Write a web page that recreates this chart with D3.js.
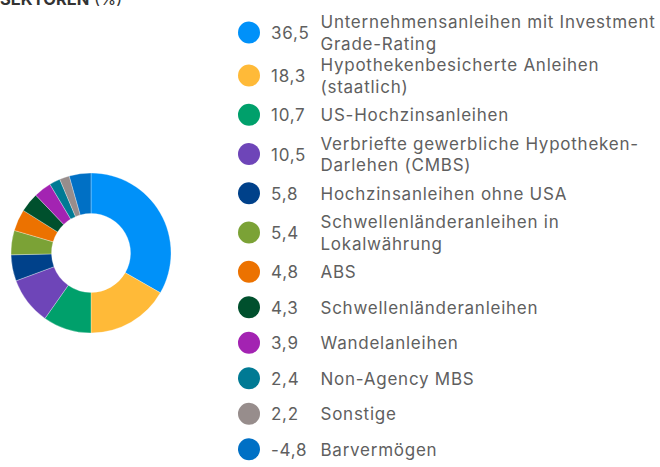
<!DOCTYPE html>
<html>
<head>
<meta charset="utf-8">
<script src="https://cdn.jsdelivr.net/npm/d3@7"></script>
<style>
  body { margin: 0; background: #fff; }
  svg { display: block; font-family: Inter, "Noto Sans", sans-serif; }
</style>
</head>
<body>
<svg width="660" height="467"></svg>
<script>
// Daten: Sektoren (%)
const labels = [
    ['Unternehmensanleihen mit Investment', 'Grade-Rating'],
    ['Hypothekenbesicherte Anleihen', '(staatlich)'],
    ['US-Hochzinsanleihen'],
    ['Verbriefte gewerbliche Hypotheken-', 'Darlehen (CMBS)'],
    ['Hochzinsanleihen ohne USA'],
    ['Schwellenländeranleihen in', 'Lokalwährung'],
    ['ABS'],
    ['Schwellenländeranleihen'],
    ['Wandelanleihen'],
    ['Non-Agency MBS'],
    ['Sonstige'],
    ['Barvermögen']
];
const values = [36.5, 18.3, 10.7, 10.5, 5.8, 5.4, 4.8, 4.3, 3.9, 2.4, 2.2, -4.8];
const colors = ['#0091f9', '#ffba38', '#00a06b', '#6e45b8', '#00418a', '#7ba236',
                '#ec7200', '#00502d', '#a323b2', '#007a94', '#978d8c', '#0070c5'];

const fmt = d3.formatLocale({ decimal: ',', thousands: '.', grouping: [3], currency: ['', ' €'], minus: '-' }).format('.1f');
const items = values.map((v, i) => ({ value: v, label: labels[i], color: colors[i] }));

const svg = d3.select('svg');

// Titel (oben abgeschnitten)
svg.append('text')
    .attr('x', 0)
    .attr('y', 5)
    .attr('fill', '#333')
    .style('font-size', '16.5px')
    .call(t => t.append('tspan').attr('font-weight', 'bold').text('SEKTOREN'))
    .call(t => t.append('tspan').text(' (%)'));

// Ring
const pie = d3.pie().sort(null).value(d => Math.abs(d.value));
const arc = d3.arc().innerRadius(39.5).outerRadius(80);

svg.append('g')
    .attr('transform', 'translate(91,253)')
    .selectAll('path')
    .data(pie(items))
    .join('path')
    .attr('d', arc)
    .attr('fill', d => d.data.color)
    .attr('stroke', '#fff')
    .attr('stroke-width', 0.3);

// Legende
const lineH = 21.5;
let y = 32.5, prevH = 0;
items.forEach((d, i) => {
    const h = Math.max(d.label.length * lineH, 35.5);
    if (i > 0) y += (prevH + h) / 2;
    prevH = h;
    d.y = y;
});

const legend = svg.append('g')
    .style('font-size', '17px')
    .style('letter-spacing', '0.75px')
    .attr('fill', '#5f5f5f')
    .selectAll('g')
    .data(items)
    .join('g')
    .attr('transform', d => `translate(0,${d.y})`);

legend.append('circle')
    .attr('cx', 249)
    .attr('cy', 0)
    .attr('r', 11)
    .attr('fill', d => d.color);

legend.append('text')
    .attr('x', 271)
    .attr('y', 6.5)
    .text(d => fmt(d.value));

legend.append('text')
    .selectAll('tspan')
    .data(d => d.label.map((l, k) => ({ l, k, n: d.label.length })))
    .join('tspan')
    .attr('x', 320.5)
    .attr('y', t => 6.5 + (t.k - (t.n - 1) / 2) * lineH)
    .text(t => t.l);
</script>
</body>
</html>
